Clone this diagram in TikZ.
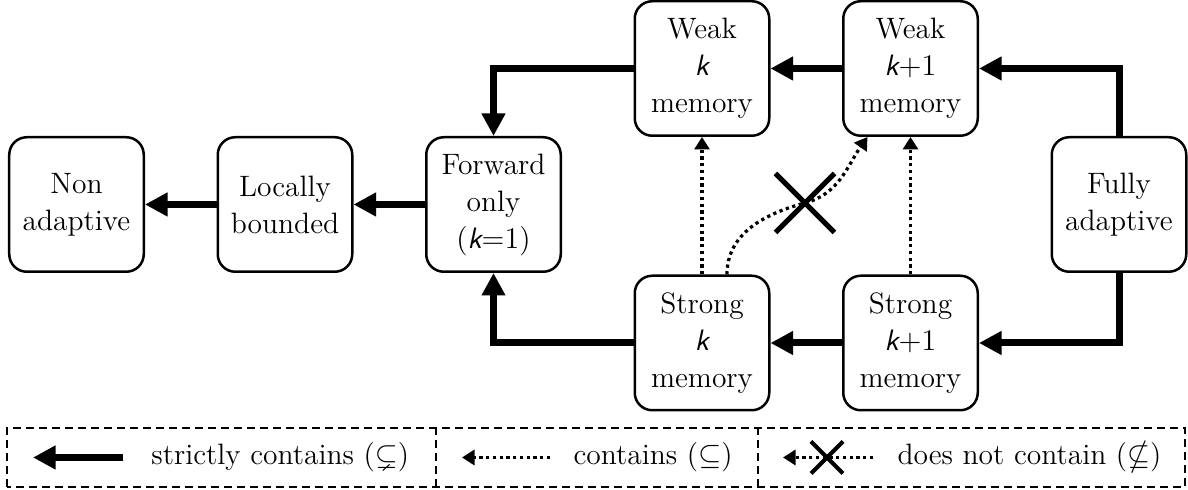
\documentclass[tikz,border=0pt]{standalone}
\usepackage{amssymb}
\usetikzlibrary{arrows.meta,shapes.misc,calc}
\newcommand{\kvar}{\mbox{\sffamily\itshape k}}
\begin{document}
\begin{tikzpicture}[x=0.4pt,y=0.4pt,
  box/.style={draw,line width=1pt,rounded corners=7pt,minimum width=53.8pt,minimum height=53.8pt,align=center,inner sep=1pt,font=\fontsize{11.8}{14.8}\selectfont},
  strict/.style={line width=2.8pt,-{Triangle[length=9pt,width=9pt]}},
  weak/.style={line width=1.3pt,dash pattern=on 1.3pt off 1.4pt,-{Triangle[length=5pt,width=6pt]}},
  nocont/.style={cross out,draw,line width=2pt,minimum size=21.6pt,inner sep=0pt},
  legtext/.style={anchor=west,font=\fontsize{11.8}{14.8}\selectfont,inner sep=0pt},
  legbox/.style={line width=0.8pt,dash pattern=on 3.2pt off 2pt}
]
\useasboundingbox (0,0) rectangle (1188,490);
\node[box] (na) at (76.5,285.5) {Non\\adaptive};
\node[box] (lb) at (285,285.5) {Locally\\bounded};
\node[box] (fo) at (493.5,285.5) {Forward\\only\\($\kvar{=}1$)};
\node[box] (wk) at (702,421.5) {Weak\\\kvar\\memory};
\node[box] (wk1) at (910.5,421.5) {Weak\\$\kvar{+}1$\\memory};
\node[box] (fa) at (1119,285.5) {Fully\\adaptive};
\node[box] (sk) at (702,147) {Strong\\\kvar\\memory};
\node[box] (sk1) at (910.5,147) {Strong\\$\kvar{+}1$\\memory};

\draw[strict] (fa.north) |- (wk1.east);
\draw[strict] (wk1.west) -- (wk.east);
\draw[strict] (wk.west) -| (fo.north);
\draw[strict] (fa.south) |- (sk1.east);
\draw[strict] (sk1.west) -- (sk.east);
\draw[strict] (sk.west) -| (fo.south);
\draw[strict] (fo.west) -- (lb.east);
\draw[strict] (lb.west) -- (na.east);

\draw[weak] (sk.north) -- (wk.south);
\draw[weak] (sk1.north) -- (wk1.south);
\node[nocont] (cx) at (805,287) {};
\draw[weak] ($(sk.north)+(25,0)$) to[out=90,in=195] (cx.center) to[out=15,in=-125] ($(wk1.south)+(-43,0)$);

\draw[legbox] (7,3) rectangle (1185,62);
\draw[legbox] (436,3) -- (436,62);
\draw[legbox] (758,3) -- (758,62);

\coordinate (l1s) at (123,32.5);
\coordinate (l1e) at (33,32.5);
\draw[strict] (l1s) -- (l1e);
\node[legtext] (t1) at (151,32.5) {strictly contains ($\subsetneq$)};

\coordinate (l2s) at (550,32.5);
\coordinate (l2e) at (462,32.5);
\draw[weak] (l2s) -- (l2e);
\node[legtext] (t2) at (573,32.5) {contains ($\subseteq$)};

\coordinate (l3s) at (873,32.5);
\coordinate (l3e) at (783,32.5);
\draw[weak] (l3s) -- (l3e);
\node[nocont,minimum size=11.2pt,line width=1.6pt] (lx) at (827,32.5) {};
\node[legtext] (t3) at (897,32.5) {does not contain ($\nsubseteq$)};
\end{tikzpicture}
\end{document}
